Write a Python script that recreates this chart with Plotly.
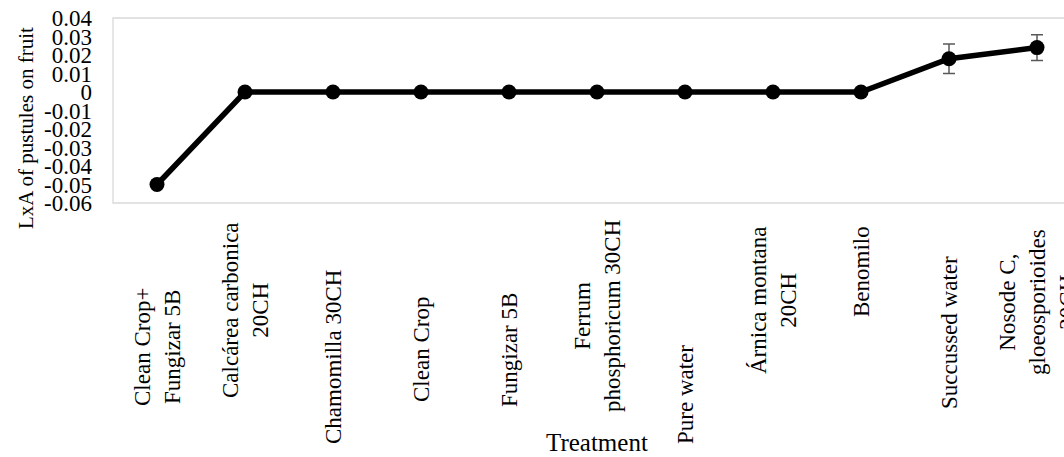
import plotly.graph_objects as go

# Treatments, in plotting order
treatments = [
    "Clean Crop+<br>Fungizar 5B",
    "Calcárea carbonica<br>20CH",
    "Chamomilla 30CH",
    "Clean Crop",
    "Fungizar 5B",
    "Ferrum<br>phosphoricum 30CH",
    "Pure water",
    "Árnica montana<br>20CH",
    "Benomilo",
    "Succussed water",
    "Nosode C,<br>gloeosporioides<br>20CH",
]
# Mean LxA of pustules on fruit and its error (None = no bar)
lxa_values = [-0.05, 0.0, 0.0, 0.0, 0.0, 0.0, 0.0, 0.0, 0.0, 0.018, 0.024]
lxa_errors = [None, None, None, None, None, None, None, None, None, 0.008, 0.007]

# Y-axis ticks
y_ticks = [0.04, 0.03, 0.02, 0.01, 0.0, -0.01, -0.02, -0.03, -0.04, -0.05, -0.06]
y_tick_text = ["0.04", "0.03", "0.02", "0.01", "0", "-0.01", "-0.02", "-0.03",
               "-0.04", "-0.05", "-0.06"]

# Vertical centre (px from the top of the page) of each rotated category label
label_centres_px = [347, 310, 357, 350, 350, 316, 395, 300, 272, 333, 302]

FONT = "Times New Roman, Liberation Serif, serif"
W, H = 1064, 457
PLOT_L, PLOT_T, PLOT_B = 113, 18, 203
CAT_W = 88.0

idx = list(range(len(treatments)))

fig = go.Figure()
fig.add_trace(go.Scatter(
    x=idx,
    y=lxa_values,
    mode="lines+markers",
    line=dict(color="black", width=5.5),
    marker=dict(color="black", size=15),
    error_y=dict(type="data", array=lxa_errors, visible=True,
                 color="#595959", thickness=1.5, width=6),
    showlegend=False,
    cliponaxis=False,
))

x_max = (W - PLOT_L) / CAT_W - 0.5

annotations = []
for i, (name, yc) in enumerate(zip(treatments, label_centres_px)):
    annotations.append(dict(
        x=i, xref="x", y=0, yref="paper",
        yshift=-(yc - PLOT_B),
        text=name, textangle=-90, showarrow=False,
        xanchor="center", yanchor="middle", align="center",
        font=dict(family=FONT, size=23, color="black"),
    ))

# Axis titles
annotations.append(dict(
    x=(PLOT_L + 11 * CAT_W / 2 - PLOT_L) / (W - PLOT_L), xref="paper",
    y=0, yref="paper", yshift=-(442 - PLOT_B),
    text="Treatment", showarrow=False, xanchor="center", yanchor="middle",
    font=dict(family=FONT, size=25, color="black"),
))
annotations.append(dict(
    x=0, xref="paper", xshift=-(PLOT_L - 26),
    y=0, yref="paper", yshift=-(128 - PLOT_B),
    text="LxA of pustules on fruit", textangle=-90, showarrow=False,
    xanchor="center", yanchor="middle",
    font=dict(family=FONT, size=21, color="black"),
))

fig.update_layout(
    width=W, height=H,
    margin=dict(l=PLOT_L, r=0, t=PLOT_T, b=H - PLOT_B, pad=0),
    paper_bgcolor="white", plot_bgcolor="white",
    xaxis=dict(range=[-0.5, x_max], showticklabels=False, showgrid=False,
               zeroline=False, showline=False, ticks=""),
    yaxis=dict(range=[-0.06, 0.04], tickvals=y_ticks, ticktext=y_tick_text,
               showgrid=False, zeroline=False, showline=False, ticks="",
               ticklabelstandoff=20,
               tickfont=dict(family=FONT, size=23, color="black")),
    annotations=annotations,
    shapes=[dict(type="rect", xref="paper", yref="paper",
                 x0=0, x1=(11 * CAT_W) / (W - PLOT_L), y0=0, y1=1,
                 line=dict(color="#d9d9d9", width=1.3), layer="below")],
)

fig.write_html("out.html")
